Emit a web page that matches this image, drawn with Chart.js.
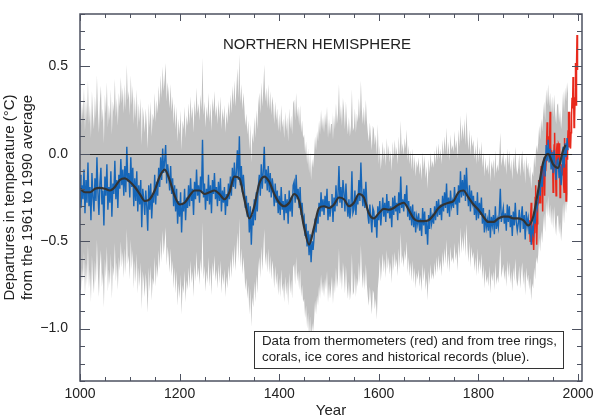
<!DOCTYPE html>
<html>
<head>
<meta charset="utf-8">
<title>Northern Hemisphere temperature, 1000-2000</title>
<script src="https://cdn.jsdelivr.net/npm/chart.js@4.4.1/dist/chart.umd.min.js"></script>
<style>
    html, body { margin: 0; padding: 0; background: #fff; }
    #wrap { width: 600px; height: 418px; }
</style>
</head>
<body>
<div id="wrap"><canvas id="chart" width="600" height="418"></canvas></div>
<script>
// Proxy reconstruction (blue), one value every 2 years from 1000 to 1980
const proxyStart = 1000;
const proxyStep = 2;
const proxyValues = [
    -0.12, -0.31, -0.18, -0.26, -0.09,  -0.34, -0.15, -0.28, -0.05, -0.30,
    -0.19, -0.38, -0.11, -0.25, -0.33,  -0.14, -0.27, -0.02, -0.22, -0.35,
    -0.17, -0.08, -0.29, -0.21, -0.41,  -0.13, -0.24, -0.06, -0.32, -0.19,
    -0.28, -0.10, -0.36, -0.17, -0.23,  -0.04, -0.26, -0.15, -0.31, -0.12,
    -0.20, -0.03, -0.18, -0.09, -0.24,  -0.07, -0.22, 0.04, -0.16, -0.11,
    -0.25, -0.02, -0.19, -0.08, -0.30,  -0.14, -0.27, -0.10, -0.33, -0.18,
    -0.29, -0.15, -0.42, -0.20, -0.26,  -0.35, -0.21, -0.30, -0.44, -0.18,
    -0.32, -0.17, -0.37, -0.24, -0.28,  -0.12, -0.29, -0.16, -0.24, -0.08,
    -0.19, -0.02, -0.15, 0.03, -0.11,   -0.04, 0.05, -0.17, -0.06, -0.12,
    -0.21, -0.07, -0.23, -0.14, -0.30,  -0.18, -0.33, -0.20, -0.40, -0.27,
    -0.36, -0.22, -0.45, -0.28, -0.33,  -0.20, -0.38, -0.25, -0.31, -0.18,
    -0.30, -0.14, -0.27, -0.20, -0.35,  -0.16, -0.26, -0.09, -0.24, -0.18,
    -0.28, -0.13, -0.22, 0.08, -0.25,   -0.17, -0.32, -0.20, -0.27, -0.12,
    -0.29, -0.18, -0.34, -0.15, -0.23,  -0.11, -0.26, -0.19, -0.30, -0.16,
    -0.27, -0.14, -0.33, -0.21, -0.28,  -0.19, -0.35, -0.23, -0.30, -0.17,
    -0.26, -0.13, -0.24, -0.08, -0.19,  -0.05, -0.20, -0.10, 0.02, -0.15,
    0.10, -0.18, -0.07, -0.22, -0.12,   -0.20, -0.31, -0.24, -0.36, -0.28,
    -0.45, -0.30, -0.52, -0.35, -0.41,  -0.26, -0.38, -0.22, -0.33, -0.19,
    -0.12, -0.24, -0.06, -0.20, -0.10,  0.04, -0.17, -0.09, -0.21, -0.07,
    -0.22, -0.11, -0.25, -0.14, -0.19,  -0.30, -0.17, -0.28, -0.21, -0.34,
    -0.24, -0.35, -0.19, -0.32, -0.27,  -0.38, -0.23, -0.34, -0.26, -0.40,
    -0.21, -0.33, -0.25, -0.36, -0.18,  -0.16, -0.28, -0.12, -0.26, -0.20,
    -0.31, -0.19, -0.35, -0.28, -0.38,  -0.36, -0.47, -0.40, -0.53, -0.44,
    -0.58, -0.46, -0.62, -0.50, -0.55,  -0.48, -0.37, -0.45, -0.34, -0.40,
    -0.28, -0.36, -0.22, -0.33, -0.26,  -0.35, -0.24, -0.31, -0.20, -0.38,
    -0.27, -0.36, -0.30, -0.23, -0.39,  -0.25, -0.33, -0.18, -0.30, -0.24,
    -0.07, -0.28, -0.19, -0.31, -0.15,  -0.22, -0.33, -0.17, -0.29, -0.36,
    -0.26, -0.37, -0.31, -0.10, -0.34,  -0.32, -0.21, -0.35, -0.24, -0.29,
    -0.15, -0.27, -0.05, -0.22, -0.30,  -0.20, -0.31, -0.16, -0.28, -0.35,
    -0.40, -0.29, -0.37, -0.45, -0.31,  -0.33, -0.42, -0.36, -0.48, -0.30,
    -0.38, -0.27, -0.41, -0.33, -0.25,  -0.36, -0.28, -0.39, -0.23, -0.34,
    -0.27, -0.37, -0.30, -0.42, -0.25,  -0.35, -0.24, -0.33, -0.28, -0.38,
    -0.22, -0.34, -0.13, -0.31, -0.26,  -0.33, -0.23, -0.29, -0.18, -0.36,
    -0.27, -0.38, -0.30, -0.41, -0.29,  -0.42, -0.33, -0.45, -0.36, -0.40,
    -0.34, -0.44, -0.37, -0.47, -0.31,  -0.41, -0.33, -0.46, -0.39, -0.52,
    -0.35, -0.43, -0.31, -0.40, -0.36,  -0.40, -0.30, -0.38, -0.27, -0.36,
    -0.26, -0.35, -0.29, -0.38, -0.24,  -0.33, -0.22, -0.31, -0.17, -0.34,
    -0.25, -0.36, -0.21, -0.30, -0.27,  -0.31, -0.19, -0.29, -0.24, -0.35,
    -0.18, -0.28, -0.10, -0.25, -0.15,  -0.24, -0.12, -0.27, -0.08, -0.22,
    -0.30, -0.18, -0.33, -0.21, -0.28,  -0.24, -0.35, -0.27, -0.38, -0.22,
    -0.37, -0.28, -0.35, -0.25, -0.40,  -0.31, -0.45, -0.34, -0.42, -0.38,
    -0.44, -0.32, -0.48, -0.36, -0.41,  -0.35, -0.46, -0.30, -0.43, -0.38,
    -0.42, -0.33, -0.20, -0.39, -0.35,  -0.31, -0.40, -0.34, -0.44, -0.29,
    -0.39, -0.30, -0.42, -0.35, -0.47,  -0.33, -0.41, -0.28, -0.39, -0.44,
    -0.40, -0.32, -0.45, -0.36, -0.30,  -0.43, -0.35, -0.49, -0.33, -0.41,
    -0.37, -0.46, -0.39, -0.52, -0.42,  -0.45, -0.33, -0.40, -0.27, -0.31,
    -0.26, -0.16, -0.24, -0.12, -0.19,  -0.10, -0.02, -0.13, 0.05, -0.04,
    0.08, -0.05, 0.03, -0.09, 0.01,     -0.11, 0.02, -0.08, -0.15, -0.04,
    -0.03, -0.14, -0.07, -0.18, -0.10,  0.04, -0.08, 0.06, -0.02, 0.09,
    0.02
];

// 40-year smoothed curve (black)
const smoothYears = [
    1000, 1010, 1020, 1030, 1040, 1050, 1060, 1070, 1080, 1090,
    1100, 1110, 1120, 1130, 1140, 1150, 1160, 1170, 1180, 1190,
    1200, 1210, 1220, 1230, 1240, 1250, 1260, 1270, 1280, 1290,
    1300, 1310, 1320, 1330, 1340, 1350, 1360, 1370, 1380, 1390,
    1400, 1410, 1420, 1430, 1440, 1450, 1460, 1470, 1480, 1490,
    1500, 1510, 1520, 1530, 1540, 1550, 1560, 1570, 1580, 1590,
    1600, 1610, 1620, 1630, 1640, 1650, 1660, 1670, 1680, 1690,
    1700, 1710, 1720, 1730, 1740, 1750, 1760, 1770, 1780, 1790,
    1800, 1810, 1820, 1830, 1840, 1850, 1860, 1870, 1880, 1890,
    1900, 1910, 1920, 1930, 1940, 1950, 1960, 1970, 1975
];
const smoothValues = [
    -0.20, -0.22, -0.22, -0.20, -0.195, -0.20, -0.21, -0.19, -0.15, -0.14,
    -0.16, -0.19, -0.23, -0.27, -0.26, -0.21, -0.13, -0.09, -0.15, -0.24,
    -0.29, -0.28, -0.24, -0.21, -0.21, -0.23, -0.22, -0.21, -0.23, -0.26,
    -0.22, -0.13, -0.14, -0.26, -0.37, -0.30, -0.17, -0.13, -0.16, -0.23,
    -0.28, -0.30, -0.28, -0.23, -0.27, -0.42, -0.52, -0.42, -0.31, -0.30,
    -0.31, -0.29, -0.25, -0.26, -0.30, -0.28, -0.23, -0.25, -0.34, -0.37,
    -0.34, -0.315, -0.32, -0.31, -0.29, -0.28, -0.32, -0.37, -0.385, -0.385,
    -0.38, -0.35, -0.31, -0.29, -0.28, -0.27, -0.22, -0.21, -0.25, -0.29,
    -0.32, -0.36, -0.39, -0.39, -0.37, -0.36, -0.36, -0.37, -0.37, -0.38,
    -0.41, -0.36, -0.21, -0.05, 0.0, -0.06, -0.08, 0.02, 0.05
];

// Thermometer record (red), annual from 1902 to 1999
const thermoStart = 1902;
const thermoValues = [
    -0.38, -0.42, -0.50, -0.35, -0.28, -0.52, -0.45, -0.50,
    -0.46, -0.55, -0.45, -0.44, -0.25, -0.18, -0.38, -0.52, -0.40, -0.30,
    -0.28, -0.15, -0.27, -0.25, -0.28, -0.14, -0.07, -0.14, -0.12, -0.33,
    -0.06, -0.03, -0.06, -0.24, -0.05, -0.10, -0.04, 0.07, 0.18, 0.05,
    0.10, 0.05, 0.03, 0.08, 0.24, 0.05, -0.03, 0.02, -0.02, -0.05,
    -0.22, -0.03, 0.05, 0.12, -0.08, -0.12, -0.24, 0.02, 0.06, 0.02,
    -0.03, 0.05, 0.04, 0.06, -0.25, -0.17, -0.08, -0.06, -0.12, -0.02,
    -0.04, -0.17, -0.22, 0.09, -0.16, -0.06, -0.27, 0.04, -0.03, 0.06,
    0.13, 0.24, 0.04, 0.24, 0.05, 0.03, 0.12, 0.22, 0.32, 0.26,
    0.44, 0.38, 0.15, 0.18, 0.32, 0.52, 0.28, 0.50, 0.68, 0.48
];

// Half-width of the grey uncertainty band, by period start year
const bandFrom = [1000, 1600];
const bandHalf = [0.47, 0.32];

// Axis ticks
const xTicks = [1000, 1200, 1400, 1600, 1800, 2000];
const yTicks = [-1.0, -0.5, 0.0, 0.5];

const FONT = '"Liberation Sans", Arial, Helvetica, sans-serif';
Chart.defaults.font.family = FONT;

// Build the points the library needs
const proxyPoints = proxyValues.map((v, i) => ({ x: proxyStart + i * proxyStep, y: v }));
const smoothPoints = smoothValues.map((v, i) => ({ x: smoothYears[i], y: v }));
const thermoPoints = thermoValues.map((v, i) => ({ x: thermoStart + i, y: v }));

function halfWidthFor(year) {
    let h = bandHalf[0];
    bandFrom.forEach((from, i) => {
        if (year >= from) h = bandHalf[i];
    });
    return h;
}
const bandUpper = proxyPoints.map(p => ({ x: p.x, y: p.y + halfWidthFor(p.x) }));
const bandLower = proxyPoints.map(p => ({ x: p.x, y: p.y - halfWidthFor(p.x) }));

// Inward tick marks, frame, zero line, heading and note
const decorations = {
    id: 'decorations',
    afterDatasetsDraw(chart) {
        const { ctx, chartArea: a, scales: { y } } = chart;
        const y0 = Math.round(y.getPixelForValue(0)) + 0.5;
        ctx.save();
        ctx.strokeStyle = '#222';
        ctx.lineWidth = 1;
        ctx.beginPath();
        ctx.moveTo(a.left, y0);
        ctx.lineTo(a.right, y0);
        ctx.stroke();
        ctx.restore();
    },
    afterDraw(chart) {
        const { ctx, chartArea: a, scales: { x, y } } = chart;
        ctx.save();
        ctx.strokeStyle = '#4d5260';
        ctx.lineWidth = 1;

        // x ticks every 50 years, longer every 200
        ctx.beginPath();
        for (let yr = 1000; yr <= 2000; yr += 50) {
            const px = Math.round(x.getPixelForValue(yr)) + 0.5;
            const len = yr % 200 === 0 ? 7 : 4;
            ctx.moveTo(px, a.bottom);
            ctx.lineTo(px, a.bottom - len);
            ctx.moveTo(px, a.top);
            ctx.lineTo(px, a.top + len);
        }
        // y ticks every 0.1, longer every 0.5
        for (let i = -13; i <= 8; i++) {
            const py = Math.round(y.getPixelForValue(i / 10)) + 0.5;
            const len = i % 5 === 0 ? 10 : 5;
            ctx.moveTo(a.left, py);
            ctx.lineTo(a.left + len, py);
            ctx.moveTo(a.right, py);
            ctx.lineTo(a.right - len, py);
        }
        ctx.stroke();

        // frame
        ctx.lineWidth = 1.5;
        ctx.strokeRect(a.left, a.top, a.right - a.left, a.bottom - a.top);

        // heading
        ctx.fillStyle = '#222';
        ctx.font = '15px ' + FONT;
        ctx.textAlign = 'center';
        ctx.textBaseline = 'middle';
        ctx.fillText('NORTHERN HEMISPHERE', 317, 45);

        // note box
        ctx.fillStyle = '#fff';
        ctx.fillRect(254, 331, 309, 37);
        ctx.strokeStyle = '#333';
        ctx.lineWidth = 1;
        ctx.strokeRect(254.5, 331.5, 309, 37);
        ctx.fillStyle = '#222';
        ctx.font = '13.3px ' + FONT;
        ctx.textAlign = 'left';
        ctx.fillText('Data from thermometers (red) and from tree rings,', 262, 341.5);
        ctx.fillText('corals, ice cores and historical records (blue).', 262, 357.5);
        ctx.restore();
    }
};

new Chart(document.getElementById('chart'), {
    type: 'line',
    data: {
        datasets: [
            {
                label: 'band upper',
                data: bandUpper,
                borderWidth: 0,
                borderColor: 'rgba(0,0,0,0)',
                backgroundColor: '#c0c0c0',
                fill: '+1',
                order: 5
            },
            {
                label: 'band lower',
                data: bandLower,
                borderWidth: 0,
                borderColor: 'rgba(0,0,0,0)',
                fill: false,
                order: 6
            },
            {
                label: 'thermometers',
                data: thermoPoints,
                borderColor: '#e8291c',
                borderWidth: 1.5,
                fill: false,
                order: 3
            },
            {
                label: 'proxies',
                data: proxyPoints,
                borderColor: '#1666b8',
                borderWidth: 1.4,
                fill: false,
                order: 2
            },
            {
                label: 'smoothed',
                data: smoothPoints,
                borderColor: '#333',
                borderWidth: 2.2,
                cubicInterpolationMode: 'monotone',
                fill: false,
                order: 1
            }
        ]
    },
    options: {
        responsive: false,
        animation: false,
        layout: { padding: { top: 14, right: 18, bottom: 0, left: 0 } },
        elements: { point: { radius: 0 } },
        plugins: {
            legend: { display: false },
            tooltip: { enabled: false }
        },
        scales: {
            x: {
                type: 'linear',
                min: 1000,
                max: 2008,
                grid: { display: false, drawTicks: false },
                border: { display: false },
                afterBuildTicks: s => { s.ticks = xTicks.map(v => ({ value: v })); },
                afterFit: s => {
                    s.height = 37;
                    s.paddingLeft = 0;
                    s.paddingRight = 0;
                },
                ticks: {
                    padding: 5,
                    color: '#222',
                    autoSkip: false,
                    maxRotation: 0,
                    font: { size: 14 },
                    callback: v => String(v)
                },
                title: {
                    display: true,
                    text: 'Year',
                    color: '#222',
                    padding: 0,
                    font: { size: 15, lineHeight: 1 }
                }
            },
            y: {
                min: -1.3,
                max: 0.8,
                grid: { display: false, drawTicks: false },
                border: { display: false },
                afterBuildTicks: s => { s.ticks = yTicks.map(v => ({ value: v })); },
                afterFit: s => {
                    s.width = 80;
                    s.paddingTop = 0;
                    s.paddingBottom = 0;
                },
                ticks: {
                    padding: 12,
                    color: '#222',
                    font: { size: 14 },
                    callback: v => v.toFixed(1).replace('-', '\u2212')
                },
                title: {
                    display: true,
                    text: ['Departures in temperature (\u00B0C)', 'from the 1961 to 1990 average'],
                    color: '#222',
                    padding: 0,
                    font: { size: 15, lineHeight: 1.25 }
                }
            }
        }
    },
    plugins: [decorations]
});
</script>
</body>
</html>
